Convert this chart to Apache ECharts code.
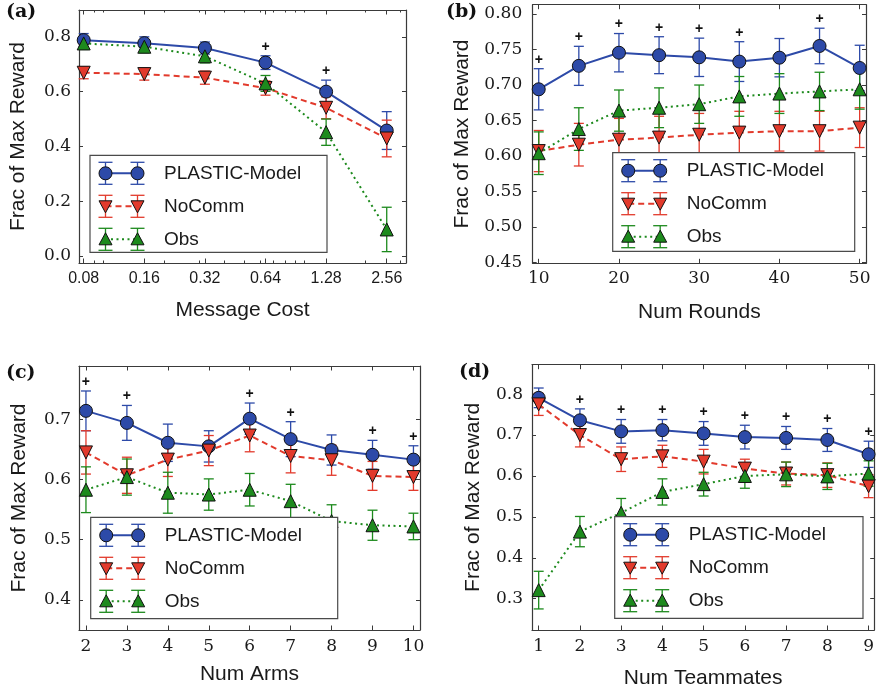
<!DOCTYPE html>
<html>
<head>
<meta charset="utf-8">
<script src="https://cdn.jsdelivr.net/npm/echarts@6/dist/echarts.min.js"></script>
<style>
  html, body { margin: 0; padding: 0; background: #fff; }
  #chart { width: 877px; height: 694px; }
</style>
</head>
<body>
<div id="chart"></div>
<script>
// ---------- (a) Message cost ----------
const costLabels = ['0.08', '0.16', '0.32', '0.64', '1.28', '2.56'];
const costValues = [0.08, 0.16, 0.32, 0.64, 1.28, 2.56];
const costMinor = [0.09, 0.1, 0.2, 0.3, 0.4, 0.5, 0.6, 0.7, 0.8, 0.9, 1, 2, 3];
const aModel = [0.788, 0.777, 0.759, 0.706, 0.600, 0.458];
const aModelErr = [0.024, 0.023, 0.022, 0.025, 0.042, 0.069];
const aNoComm = [0.669, 0.664, 0.651, 0.613, 0.541, 0.429];
const aNoCommErr = [0.022, 0.022, 0.024, 0.026, 0.040, 0.067];
const aObs = [0.776, 0.764, 0.729, 0.630, 0.452, 0.097];
const aObsErr = [0.022, 0.022, 0.024, 0.029, 0.048, 0.081];
const aSig = [0.64, 1.28];
const aYTicks = [0, 0.2, 0.4, 0.6, 0.8];

// ---------- (b) Number of rounds ----------
const rounds = [10, 15, 20, 25, 30, 35, 40, 45, 50];
const roundTicks = [10, 20, 30, 40, 50];
const bModel = [0.694, 0.727, 0.7455, 0.742, 0.739, 0.733, 0.7385, 0.755, 0.724];
const bModelErr = [0.029, 0.0275, 0.027, 0.026, 0.027, 0.028, 0.027, 0.025, 0.032];
const bNoComm = [0.607, 0.616, 0.623, 0.626, 0.630, 0.633, 0.635, 0.635, 0.640];
const bNoCommErr = [0.029, 0.030, 0.030, 0.030, 0.030, 0.030, 0.028, 0.028, 0.028];
const bObs = [0.604, 0.638, 0.664, 0.668, 0.673, 0.684, 0.688, 0.691, 0.694];
const bObsErr = [0.030, 0.030, 0.029, 0.028, 0.027, 0.028, 0.028, 0.027, 0.028];
const bSig = [10, 15, 20, 25, 30, 35, 45];
const bYTicks = [0.45, 0.50, 0.55, 0.60, 0.65, 0.70, 0.75, 0.80];

// ---------- (c) Number of arms ----------
const arms = [2, 3, 4, 5, 6, 7, 8, 9, 10];
const cModel = [0.714, 0.694, 0.661, 0.655, 0.701, 0.667, 0.649, 0.641, 0.633];
const cModelErr = [0.033, 0.029, 0.031, 0.026, 0.026, 0.029, 0.025, 0.024, 0.023];
const cNoComm = [0.645, 0.607, 0.633, 0.648, 0.673, 0.639, 0.632, 0.606, 0.604];
const cNoCommErr = [0.036, 0.030, 0.028, 0.025, 0.027, 0.028, 0.025, 0.024, 0.022];
const cObs = [0.583, 0.604, 0.578, 0.575, 0.583, 0.564, 0.531, 0.524, 0.522];
const cObsErr = [0.038, 0.030, 0.034, 0.026, 0.027, 0.028, 0.027, 0.025, 0.022];
const cSig = [2, 3, 6, 7, 9, 10];
const cYTicks = [0.4, 0.5, 0.6, 0.7];

// ---------- (d) Number of teammates ----------
const teammates = [1, 2, 3, 4, 5, 6, 7, 8, 9];
const dModel = [0.791, 0.736, 0.709, 0.712, 0.704, 0.695, 0.693, 0.688, 0.653];
const dModelErr = [0.024, 0.028, 0.029, 0.026, 0.029, 0.029, 0.028, 0.028, 0.032];
const dNoComm = [0.775, 0.700, 0.641, 0.648, 0.635, 0.618, 0.606, 0.602, 0.575];
const dNoCommErr = [0.027, 0.029, 0.030, 0.027, 0.030, 0.023, 0.028, 0.030, 0.028];
const dObs = [0.321, 0.464, 0.510, 0.561, 0.580, 0.600, 0.604, 0.599, 0.606];
const dObsErr = [0.046, 0.037, 0.035, 0.032, 0.029, 0.030, 0.030, 0.032, 0.031];
const dSig = [2, 3, 4, 5, 6, 7, 8, 9];
const dYTicks = [0.3, 0.4, 0.5, 0.6, 0.7, 0.8];

const seriesNames = ['PLASTIC-Model', 'NoComm', 'Obs'];

// ---------- styling ----------
const COLORS = ['#2D4AA8', '#E23A2C', '#1D8A1D'];
const DASHES = ['solid', [6, 4], [2, 3.5]];
const SERIF = 'DejaVu Serif';
const SANS = 'Liberation Sans';
const AXIS_COLOR = '#3a3a3a';
const TEXT_COLOR = '#1a1a1a';
const LEGEND_Z = 100;

// Message costs double each step, so they sit on a log2 scale.
const costPos = costValues.map(v => Math.log2(v / costValues[0]));
const costMinorPos = costMinor.map(v => Math.log2(v / costValues[0]));

const grids = [], xAxes = [], yAxes = [], series = [], graphics = [];

function xAxisCfg(gi, p, position, ticks, withLabels, tickLen) {
  return {
    type: 'value', gridIndex: gi, position: position,
    min: p.xRange[0], max: p.xRange[1],
    axisLine: { show: true, onZero: false, lineStyle: { color: AXIS_COLOR, width: 1.2 } },
    axisTick: { show: true, inside: true, length: tickLen, customValues: ticks,
                lineStyle: { color: AXIS_COLOR, width: 1 } },
    axisLabel: withLabels ? {
      show: true, customValues: ticks, margin: p.xLabelMargin,
      formatter: p.xFormat, fontFamily: p.xFont, fontSize: p.xFontSize, color: TEXT_COLOR
    } : { show: false },
    splitLine: { show: false },
    name: withLabels ? p.xName : '',
    nameLocation: 'middle', nameGap: p.xNameGap,
    nameTextStyle: { fontFamily: SANS, fontSize: 21, color: TEXT_COLOR }
  };
}

function yAxisCfg(gi, p, position, withLabels) {
  return {
    type: 'value', gridIndex: gi, position: position,
    min: p.yRange[0], max: p.yRange[1],
    axisLine: { show: true, onZero: false, lineStyle: { color: AXIS_COLOR, width: 1.2 } },
    axisTick: { show: true, inside: true, length: 4, customValues: p.yTicks,
                lineStyle: { color: AXIS_COLOR, width: 1 } },
    axisLabel: withLabels ? {
      show: true, customValues: p.yTicks, margin: p.yLabelMargin,
      formatter: v => v.toFixed(p.yDigits), fontFamily: SERIF, fontSize: 17, color: TEXT_COLOR
    } : { show: false },
    splitLine: { show: false },
    name: withLabels ? 'Frac of Max Reward' : '',
    nameLocation: 'middle', nameGap: p.yNameGap, nameRotate: 90,
    nameTextStyle: { fontFamily: SANS, fontSize: 21, color: TEXT_COLOR }
  };
}

// vertical error bar with caps
function errorBarItem(color, capHalf) {
  return function (params, api) {
    const x = api.value(0), y = api.value(1), e = api.value(2);
    const top = api.coord([x, y + e]);
    const bot = api.coord([x, y - e]);
    const st = { stroke: color, lineWidth: 1.3 };
    return {
      type: 'group',
      children: [
        { type: 'line', shape: { x1: top[0], y1: top[1], x2: bot[0], y2: bot[1] }, style: st },
        { type: 'line', shape: { x1: top[0] - capHalf, y1: top[1], x2: top[0] + capHalf, y2: top[1] }, style: st },
        { type: 'line', shape: { x1: bot[0] - capHalf, y1: bot[1], x2: bot[0] + capHalf, y2: bot[1] }, style: st }
      ]
    };
  };
}

function symbolFor(k) {
  if (k === 0) return { symbol: 'circle', size: 13, rotate: 0 };
  if (k === 1) return { symbol: 'triangle', size: 13, rotate: 180 };
  return { symbol: 'triangle', size: 13, rotate: 0 };
}

function legendGraphic(box) {
  const [lx, ly, lw, lh] = box;
  const children = [{
    type: 'rect', z: LEGEND_Z, shape: { x: lx, y: ly, width: lw, height: lh },
    style: { fill: '#fff', stroke: '#4a4a4a', lineWidth: 1.2 }
  }];
  const rowOff = [18, 51, 84];
  const mx = [lx + 15.5, lx + 47.5];
  seriesNames.forEach((name, k) => {
    const y = ly + rowOff[k];
    const c = COLORS[k];
    const st = { stroke: c, lineWidth: 1.3 };
    children.push({
      type: 'line', z: LEGEND_Z, shape: { x1: mx[0], y1: y, x2: mx[1], y2: y },
      style: { stroke: c, lineWidth: 2, lineDash: DASHES[k] === 'solid' ? null : DASHES[k] }
    });
    mx.forEach(x => {
      children.push({ type: 'line', z: LEGEND_Z, shape: { x1: x, y1: y - 11, x2: x, y2: y + 11 }, style: st });
      children.push({ type: 'line', z: LEGEND_Z, shape: { x1: x - 7, y1: y - 11, x2: x + 7, y2: y - 11 }, style: st });
      children.push({ type: 'line', z: LEGEND_Z, shape: { x1: x - 7, y1: y + 11, x2: x + 7, y2: y + 11 }, style: st });
      const mk = { fill: c, stroke: '#111', lineWidth: 1 };
      if (k === 0) {
        children.push({ type: 'circle', z: LEGEND_Z, shape: { cx: x, cy: y, r: 6.5 }, style: mk });
      } else if (k === 1) {
        children.push({ type: 'polygon', z: LEGEND_Z, shape: { points: [[x - 6.5, y - 5.5], [x + 6.5, y - 5.5], [x, y + 6.5]] }, style: mk });
      } else {
        children.push({ type: 'polygon', z: LEGEND_Z, shape: { points: [[x - 6.5, y + 5.5], [x + 6.5, y + 5.5], [x, y - 6.5]] }, style: mk });
      }
    });
    children.push({
      type: 'text', z: LEGEND_Z, x: lx + 74, y: y,
      style: { text: name, fontFamily: SANS, fontSize: 19, fill: TEXT_COLOR, verticalAlign: 'middle', align: 'left' }
    });
  });
  return { type: 'group', z: LEGEND_Z, children: children };
}

function addPanel(p) {
  const gi = grids.length;
  grids.push({ left: p.grid[0], top: p.grid[1], width: p.grid[2], height: p.grid[3], containLabel: false });

  const xi = xAxes.length;
  xAxes.push(xAxisCfg(gi, p, 'bottom', p.xTicks, true, 4.5));
  xAxes.push(xAxisCfg(gi, p, 'top', p.xTicks, false, 4.5));
  if (p.xMinor) {
    const mb = xAxisCfg(gi, p, 'bottom', p.xMinor, false, 2.5);
    mb.axisLine.show = false;
    const mt = xAxisCfg(gi, p, 'top', p.xMinor, false, 2.5);
    mt.axisLine.show = false;
    xAxes.push(mb, mt);
  }
  const yi = yAxes.length;
  yAxes.push(yAxisCfg(gi, p, 'left', true));
  yAxes.push(yAxisCfg(gi, p, 'right', false));

  p.values.forEach((vals, k) => {
    const errs = p.errors[k];
    const sym = symbolFor(k);
    series.push({
      type: 'custom', name: seriesNames[k] + ' err', xAxisIndex: xi, yAxisIndex: yi,
      renderItem: errorBarItem(COLORS[k], 5),
      encode: { x: 0, y: 1 },
      data: p.xs.map((x, i) => [x, vals[i], errs[i]]),
      z: 2, silent: true
    });
    series.push({
      type: 'line', name: seriesNames[k], xAxisIndex: xi, yAxisIndex: yi,
      data: p.xs.map((x, i) => [x, vals[i]]),
      symbol: sym.symbol, symbolSize: sym.size, symbolRotate: sym.rotate,
      lineStyle: { color: COLORS[k], width: 2, type: DASHES[k] },
      itemStyle: { color: COLORS[k], borderColor: '#111', borderWidth: 1 },
      z: 2, silent: true, clip: false
    });
  });

  // significance marks above the PLASTIC-Model error bars
  series.push({
    type: 'custom', name: 'significance', xAxisIndex: xi, yAxisIndex: yi,
    encode: { x: 0, y: 1 },
    data: p.sig.map(s => {
      const i = p.xsRaw.indexOf(s);
      return [p.xs[i], p.values[0][i] + p.errors[0][i]];
    }),
    renderItem: function (params, api) {
      const pt = api.coord([api.value(0), api.value(1)]);
      return {
        type: 'text', x: pt[0], y: pt[1] - 9,
        style: { text: '+', fontFamily: SANS, fontSize: 14, fontWeight: 'bold', fill: '#111',
                 align: 'center', verticalAlign: 'middle' }
      };
    },
    z: 3, silent: true
  });

  graphics.push(legendGraphic(p.legend));
  graphics.push({
    type: 'text', x: p.tag[0], y: p.tag[1], z: LEGEND_Z,
    style: { text: p.tagText, fontFamily: SERIF, fontSize: 19, fontWeight: 'bold', fill: '#111',
             verticalAlign: 'top', align: 'left' }
  });
}

addPanel({
  tagText: '(a)', tag: [6, 3],
  grid: [79, 10, 327, 253],
  xs: costPos, xsRaw: costValues,
  xRange: [-0.0776, 5.318], xTicks: costPos, xMinor: costMinorPos,
  xFormat: v => costLabels[Math.round(v)], xFont: SANS, xFontSize: 16, xLabelMargin: 8,
  xName: 'Message Cost', xNameGap: 37,
  yRange: [-0.0255, 0.898], yTicks: aYTicks, yDigits: 1, yLabelMargin: 8, yNameGap: 50,
  values: [aModel, aNoComm, aObs], errors: [aModelErr, aNoCommErr, aObsErr],
  sig: aSig, legend: [90, 155.3, 237, 97]
});

addPanel({
  tagText: '(b)', tag: [446, 3],
  grid: [532.7, 4.7, 333.3, 258.6],
  xs: rounds, xsRaw: rounds,
  xRange: [9.25, 50.79], xTicks: roundTicks,
  xFormat: v => String(v), xFont: SERIF, xFontSize: 17, xLabelMargin: 7,
  xName: 'Num Rounds', xNameGap: 38,
  yRange: [0.449, 0.8131], yTicks: bYTicks, yDigits: 2, yLabelMargin: 10.5, yNameGap: 60,
  values: [bModel, bNoComm, bObs], errors: [bModelErr, bNoCommErr, bObsErr],
  sig: bSig, legend: [612.7, 152.7, 242, 98.6]
});

addPanel({
  tagText: '(c)', tag: [6, 364],
  grid: [79, 366, 341, 264],
  xs: arms, xsRaw: arms,
  xRange: [1.83, 10.16], xTicks: arms,
  xFormat: v => String(v), xFont: SERIF, xFontSize: 17, xLabelMargin: 8,
  xName: 'Num Arms', xNameGap: 34,
  yRange: [0.35, 0.7885], yTicks: cYTicks, yDigits: 1, yLabelMargin: 8, yNameGap: 49,
  values: [cModel, cNoComm, cObs], errors: [cModelErr, cNoCommErr, cObsErr],
  sig: cSig, legend: [90.7, 517.3, 247, 101.4]
});

addPanel({
  tagText: '(d)', tag: [459, 363],
  grid: [532, 364.7, 342.3, 265.3],
  xs: teammates, xsRaw: teammates,
  xRange: [0.838, 9.136], xTicks: teammates,
  xFormat: v => String(v), xFont: SERIF, xFontSize: 17, xLabelMargin: 8,
  xName: 'Num Teammates', xNameGap: 37.5,
  yRange: [0.2235, 0.872], yTicks: dYTicks, yDigits: 1, yLabelMargin: 9, yNameGap: 48,
  values: [dModel, dNoComm, dObs], errors: [dModelErr, dNoCommErr, dObsErr],
  sig: dSig, legend: [614.7, 516.7, 248.3, 101.6]
});

const chart = echarts.init(document.getElementById('chart'), null, { renderer: 'canvas' });
chart.setOption({
  animation: false,
  backgroundColor: '#fff',
  grid: grids,
  xAxis: xAxes,
  yAxis: yAxes,
  series: series,
  graphic: graphics
});
</script>
</body>
</html>
